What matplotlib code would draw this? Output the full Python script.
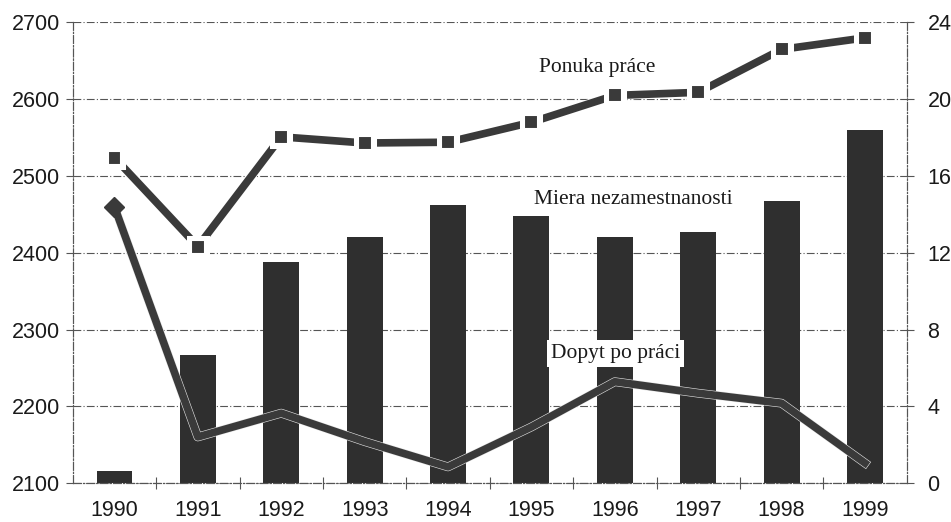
import matplotlib
matplotlib.use("Agg")
import matplotlib.pyplot as plt
import matplotlib.patheffects as pe
import numpy as np

# data
years = ["1990", "1991", "1992", "1993", "1994", "1995", "1996", "1997", "1998", "1999"]
ponuka = [2524, 2408, 2551, 2543, 2544, 2570, 2605, 2609, 2665, 2680]
dopyt = [2460, 2160, 2191, 2154, 2121, 2173, 2232, 2217, 2204, 2126]
nezamestnanost = [0.63, 6.67, 11.5, 12.8, 14.5, 13.9, 12.8, 13.1, 14.7, 18.4]

left_ticks = [2100, 2200, 2300, 2400, 2500, 2600, 2700]
right_ticks = [0, 4, 8, 12, 16, 20, 24]

bar_col = "#2f2f2f"
line_col = "#3a3a3a"
grid_col = "#555555"
sans = ["Liberation Sans", "DejaVu Sans"]
serif = ["Liberation Serif", "DejaVu Serif"]

fig = plt.figure(figsize=(9.51, 5.22), dpi=100)
ax = fig.add_axes([0.0765, 0.0747, 0.8769, 0.8822])
ax2 = ax.twinx()
# lines on top of the bars
ax.set_zorder(ax2.get_zorder() + 1)
ax.patch.set_visible(False)

x = np.arange(len(years))

# bars - unemployment rate, right axis
ax2.set_axisbelow(True)
ax2.bar(x, nezamestnanost, width=0.43, color=bar_col, zorder=2)
ax2.set_ylim(0, 24)
ax2.set_yticks(right_ticks)
ax2.grid(axis="y", color=grid_col, linewidth=0.8, linestyle=(0, (7, 2, 1, 2)), zorder=0)

# lines - left axis
ax.plot(x, ponuka, color=line_col, linewidth=5.5, marker="s", markersize=10,
        markeredgecolor="white", markeredgewidth=1.5, zorder=3,
        path_effects=[pe.Stroke(linewidth=6.5, foreground="white"), pe.Normal()])
ax.plot(x, dopyt, color=line_col, linewidth=5.5, zorder=3,
        path_effects=[pe.Stroke(linewidth=6.3, foreground="#e8e8e8"), pe.Normal()])
# diamond marker only at the first point
ax.plot(x[:1], dopyt[:1], linestyle="none", marker="D", markersize=10,
        color=line_col, markeredgecolor=line_col, zorder=4)
ax.set_ylim(2100, 2700)
ax.set_yticks(left_ticks)
ax.set_xlim(-0.5, len(years) - 0.5)

ax.set_xticks(x)
ax.set_xticklabels(years)
ax.set_xticks(np.arange(0.5, len(years) - 1, 1.0), minor=True)
ax.tick_params(axis="x", which="major", length=0, pad=12)
ax.tick_params(axis="x", which="minor", length=8, direction="inout", color=grid_col, width=0.8)
ax.tick_params(axis="y", length=5, width=0.8, color=grid_col, pad=4)
ax2.tick_params(axis="y", length=5, width=0.8, color=grid_col, pad=10)

for a in (ax, ax2):
    for lab in a.get_xticklabels() + a.get_yticklabels():
        lab.set_family(sans)
        lab.set_fontsize(15.5)
        lab.set_color("#1a1a1a")
    a.spines["top"].set_visible(False)
    for s in ("left", "right", "bottom"):
        a.spines[s].set_color(grid_col)
        a.spines[s].set_linewidth(0.8)
        a.spines[s].set_linestyle((0, (7, 2, 1, 2)))

# series labels
ax.text(5.79, 2642, "Ponuka práce", family=serif, fontsize=15.5, color="#1a1a1a",
        ha="center", va="center", zorder=5)
ax.text(6.22, 2469, "Miera nezamestnanosti", family=serif, fontsize=15.5, color="#1a1a1a",
        ha="center", va="center", zorder=5)
ax.text(6.01, 2269, "Dopyt po práci", family=serif, fontsize=15.5, color="#1a1a1a",
        ha="center", va="center", zorder=5,
        bbox=dict(facecolor="white", edgecolor="none", pad=3))

fig.savefig("out.png", dpi=100)
